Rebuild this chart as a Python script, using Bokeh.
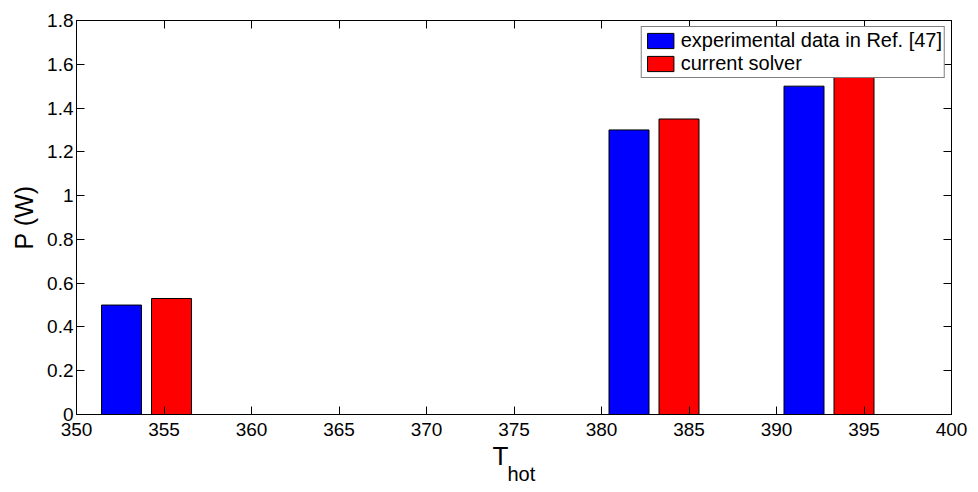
from bokeh.plotting import figure
from bokeh.models import (LinearAxis, FixedTicker, CustomJSTickFormatter, Title,
                          Legend, LegendItem, ColumnDataSource, Range1d)
from bokeh.embed import file_html
from bokeh.resources import INLINE

# ---- data ----
t_hot = [354, 383, 393]
experimental = [0.50, 1.30, 1.50]
solver = [0.53, 1.35, 1.58]
series_names = ["experimental data in Ref. [47]", "current solver"]
series_colors = ["#0000ff", "#ff0000"]
x_ticks = [350, 355, 360, 365, 370, 375, 380, 385, 390, 395, 400]
y_ticks = [0, 0.2, 0.4, 0.6, 0.8, 1, 1.2, 1.4, 1.6, 1.8]

# MATLAB-style grouped bar geometry (2 series)
spacing = min(b - a for a, b in zip(t_hot[:-1], t_hot[1:]))
group_w = min(0.8, 2 / (2 + 1.5)) * spacing
slot = group_w / 2
bar_w = 0.8 * slot
offsets = [-slot / 2, slot / 2]

FONT = "Liberation Sans"

p = figure(frame_width=875, frame_height=394, output_backend="svg",
           toolbar_location=None,
           x_range=Range1d(x_ticks[0], x_ticks[-1]), y_range=Range1d(y_ticks[0], y_ticks[-1]),
           min_border_left=76, min_border_top=20, min_border_right=27,
           min_border_bottom=78, background_fill_color="white",
           border_fill_color="white", outline_line_color="black")
p.xgrid.visible = False
p.ygrid.visible = False

renderers = []
for vals, off, col in zip([experimental, solver], offsets, series_colors):
    src = ColumnDataSource(dict(x=[t + off for t in t_hot], top=vals))
    r = p.vbar(x="x", top="top", width=bar_w, bottom=0, source=src,
               fill_color=col, line_color="black", line_width=1)
    renderers.append(r)

fmt = CustomJSTickFormatter(code="return String(tick)")
blank = CustomJSTickFormatter(code="return ''")

xb = p.xaxis[0]
xb.ticker = FixedTicker(ticks=x_ticks)
xb.major_tick_in = 8
xb.major_tick_out = 0
xb.minor_tick_line_color = None
xb.formatter = fmt
xb.major_label_text_font = FONT
xb.major_label_text_font_size = "19px"
xb.major_label_text_color = "black"
xb.major_label_standoff = 8

yl = p.yaxis[0]
yl.ticker = FixedTicker(ticks=y_ticks)
yl.major_tick_in = 8
yl.major_tick_out = 0
yl.minor_tick_line_color = None
yl.formatter = fmt
yl.major_label_text_font = FONT
yl.major_label_text_font_size = "19px"
yl.major_label_text_color = "black"
yl.major_label_standoff = 3
yl.axis_label = "P (W)"
yl.axis_label_text_font = FONT
yl.axis_label_text_font_size = "25px"
yl.axis_label_text_font_style = "normal"
yl.axis_label_text_color = "black"
yl.axis_label_standoff = 6

for loc, ticks in (("above", x_ticks), ("right", y_ticks)):
    ax = LinearAxis(ticker=FixedTicker(ticks=ticks), major_tick_in=8, major_tick_out=0,
                    minor_tick_line_color=None, formatter=blank,
                    major_label_standoff=0, axis_line_color="black")
    p.add_layout(ax, loc)

# x-axis label T_hot (T with subscript "hot")
p.add_layout(Title(text="T", align="left", offset=416, standoff=0,
                   text_font=FONT, text_font_size="26px", text_font_style="normal",
                   text_color="black"), "below")
p.add_layout(Title(text="hot", align="left", offset=431, standoff=-20,
                   text_font=FONT, text_font_size="20px", text_font_style="normal",
                   text_color="black"), "below")

legend = Legend(items=[LegendItem(label=n, renderers=[r]) for n, r in zip(series_names, renderers)],
                location="top_right", margin=6, padding=2, spacing=0,
                glyph_width=33, glyph_height=19, label_standoff=4,
                label_text_font=FONT, label_text_font_size="20px",
                label_text_color="black", border_line_color="black",
                border_line_width=1, background_fill_alpha=1.0)
p.add_layout(legend)

open("out.html", "w").write(file_html(p, INLINE))
